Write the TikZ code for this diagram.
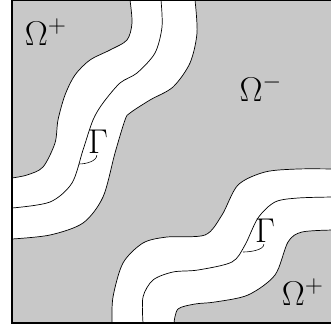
\documentclass[tikz,border=0pt]{standalone}
\usepackage{amsmath,amssymb}
\usepackage{graphicx}
\usepackage{xcolor}
\usepackage{tikz}
\definecolor{regiongray}{RGB}{200,200,200}
\newcommand{\biglbl}[1]{\scalebox{1.7}{#1}}

\begin{document}
\begin{tikzpicture}[
  x=0.03cm, y=-0.03cm,
  iface/.style={line width=0.6pt, draw=black},
  frame/.style={line width=1.0pt, draw=black},
  lbl/.style={font=\LARGE, inner sep=1pt},
  lead/.style={line width=0.5pt, draw=black}
]
\useasboundingbox (0,0) rectangle (331,331);
% background region
\fill[regiongray] (12,0) rectangle (334,323);
% upper band
\fill[white] plot[smooth] coordinates {(130,0) (132,23) (127,40) (110,50) (90,60) (75,75) (65,95) (58,120) (55,143) (43,167) (27,175) (12,178)}
  -- plot[smooth] coordinates {(12,239) (50,235) (83,223) (103,197) (115,153) (125,120) (130,113) (150,100) (173,87) (190,63) (197,33) (195,0)} -- cycle;
% lower band
\fill[white] plot[smooth] coordinates {(112,323) (113,297) (123,263) (143,243) (167,237) (205,235) (222,215) (238,185) (265,172) (298,169) (334,169)}
  -- plot[smooth] coordinates {(334,230) (302,232) (288,242) (275,275) (248,295) (215,302) (195,304) (178,309) (174,323)} -- cycle;
% interfaces
\draw[iface] plot[smooth] coordinates {(130,0) (132,23) (127,40) (110,50) (90,60) (75,75) (65,95) (58,120) (55,143) (43,167) (27,175) (12,178)};
\draw[iface] plot[smooth] coordinates {(161,0) (162,27) (155,53) (137,73) (120,83) (103,103) (93,120) (83,150) (72,183) (50,202) (12,208)};
\draw[iface] plot[smooth] coordinates {(195,0) (197,33) (190,63) (173,87) (150,100) (130,113) (125,120) (115,153) (103,197) (83,223) (50,235) (12,239)};
\draw[iface] plot[smooth] coordinates {(112,323) (113,297) (123,263) (143,243) (167,237) (205,235) (222,215) (238,185) (265,172) (298,169) (334,169)};
\draw[iface] plot[smooth] coordinates {(143,323) (143,297) (153,280) (173,272) (198,270) (232,262) (245,245) (258,218) (275,202) (298,198) (334,197)};
\draw[iface] plot[smooth] coordinates {(174,323) (178,309) (195,304) (215,302) (248,295) (275,275) (288,242) (302,232) (334,230)};
% frame
\draw[frame] (12,0.5) rectangle (334,323);
% labels
\node[lbl] (omplusup) at (46,32) {\biglbl{$\Omega^+$}};
\node[lbl] (omminus) at (261,88) {\biglbl{$\Omega^-$}};
\node[lbl] (omplusdn) at (303,292) {\biglbl{$\Omega^+$}};
\node[lbl] (gamup) at (98,142) {\biglbl{$\Gamma$}};
\node[lbl] (gamdn) at (265,231) {\biglbl{$\Gamma$}};
\coordinate (gup) at (79,164);
\coordinate (gdn) at (243,252);
\draw[lead] ([xshift=-1pt]gamup.south) .. controls +(0,6) and +(7,0) .. (gup);
\draw[lead] ([xshift=-1pt]gamdn.south) .. controls +(0,6) and +(7,0) .. (gdn);
\end{tikzpicture}
\end{document}
